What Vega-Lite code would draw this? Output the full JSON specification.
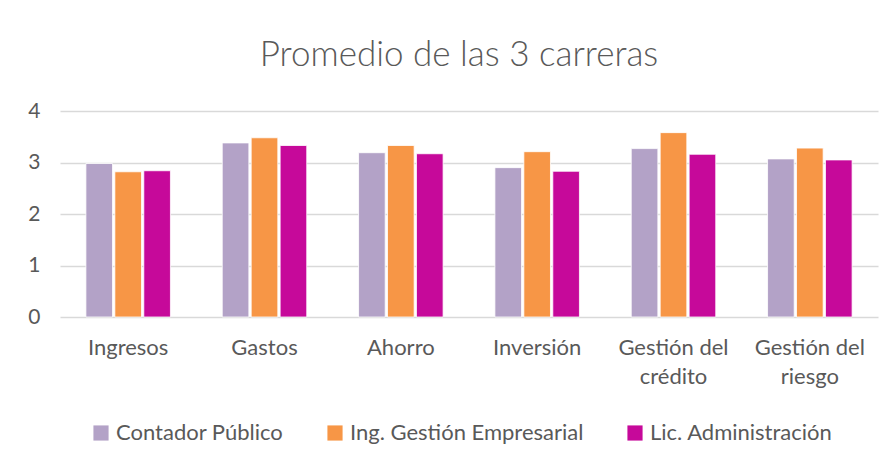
{
  "$schema": "https://vega.github.io/schema/vega-lite/v6.json",
  "autosize": "none",
  "width": 818,
  "height": 206,
  "padding": {"left": 60, "top": 111, "right": 15, "bottom": 144},
  "background": "white",
  "title": {
    "text": "Promedio de las 3 carreras",
    "font": "Lato",
    "fontWeight": 300,
    "fontSize": 35,
    "color": "#595959",
    "anchor": "middle",
    "dx": -10,
    "offset": 27
  },
  "data": {
    "values": [
      {"categoria": "Ingresos", "carrera": "Contador Público", "valor": 2.98},
      {"categoria": "Ingresos", "carrera": "Ing. Gestión Empresarial", "valor": 2.82},
      {"categoria": "Ingresos", "carrera": "Lic. Administración", "valor": 2.84},
      {"categoria": "Gastos", "carrera": "Contador Público", "valor": 3.38},
      {"categoria": "Gastos", "carrera": "Ing. Gestión Empresarial", "valor": 3.48},
      {"categoria": "Gastos", "carrera": "Lic. Administración", "valor": 3.33},
      {"categoria": "Ahorro", "carrera": "Contador Público", "valor": 3.19},
      {"categoria": "Ahorro", "carrera": "Ing. Gestión Empresarial", "valor": 3.33},
      {"categoria": "Ahorro", "carrera": "Lic. Administración", "valor": 3.17},
      {"categoria": "Inversión", "carrera": "Contador Público", "valor": 2.9},
      {"categoria": "Inversión", "carrera": "Ing. Gestión Empresarial", "valor": 3.21},
      {"categoria": "Inversión", "carrera": "Lic. Administración", "valor": 2.83},
      {"categoria": "Gestión del crédito", "carrera": "Contador Público", "valor": 3.27},
      {"categoria": "Gestión del crédito", "carrera": "Ing. Gestión Empresarial", "valor": 3.58},
      {"categoria": "Gestión del crédito", "carrera": "Lic. Administración", "valor": 3.16},
      {"categoria": "Gestión del riesgo", "carrera": "Contador Público", "valor": 3.07},
      {"categoria": "Gestión del riesgo", "carrera": "Ing. Gestión Empresarial", "valor": 3.28},
      {"categoria": "Gestión del riesgo", "carrera": "Lic. Administración", "valor": 3.05}
    ]
  },
  "mark": {"type": "bar", "stroke": "white", "strokeWidth": 0.8},
  "encoding": {
    "x": {
      "field": "categoria",
      "type": "nominal",
      "sort": null,
      "scale": {"paddingInner": 0.38, "paddingOuter": 0.19},
      "axis": {
        "title": null,
        "labelAngle": 0,
        "domain": false,
        "ticks": false,
        "labelPadding": 20,
        "labelFont": "Lato",
        "labelFontSize": 22,
        "labelColor": "#595959",
        "labelLineHeight": 29,
        "labelLimit": 0,
        "labelExpr": "length(datum.label) > 12 ? ['Gestión del', slice(datum.label, 12)] : datum.label"
      }
    },
    "xOffset": {
      "field": "carrera",
      "type": "nominal",
      "sort": null,
      "scale": {"paddingInner": 0.08}
    },
    "y": {
      "field": "valor",
      "type": "quantitative",
      "scale": {"domain": [0, 4], "nice": false},
      "axis": {
        "title": null,
        "values": [0, 1, 2, 3, 4],
        "domain": false,
        "ticks": false,
        "labelPadding": 20,
        "labelFont": "Lato",
        "labelFontSize": 21,
        "labelColor": "#595959",
        "gridColor": "#D9D9D9",
        "gridWidth": 1.5
      }
    },
    "color": {
      "field": "carrera",
      "type": "nominal",
      "sort": null,
      "scale": {
        "domain": ["Contador Público", "Ing. Gestión Empresarial", "Lic. Administración"],
        "range": ["#B3A2C7", "#F79646", "#C6099A"]
      },
      "legend": {
        "title": null,
        "orient": "none",
        "direction": "horizontal",
        "legendX": 30,
        "legendY": 311,
        "symbolType": "square",
        "symbolSize": 230,
        "symbolStrokeWidth": 0,
        "symbolOpacity": 1,
        "labelFont": "Lato",
        "labelFontSize": 22,
        "labelColor": "#595959",
        "labelOffset": 4,
        "labelLimit": 0,
        "columnPadding": 40
      }
    }
  },
  "config": {"view": {"stroke": null}}
}
